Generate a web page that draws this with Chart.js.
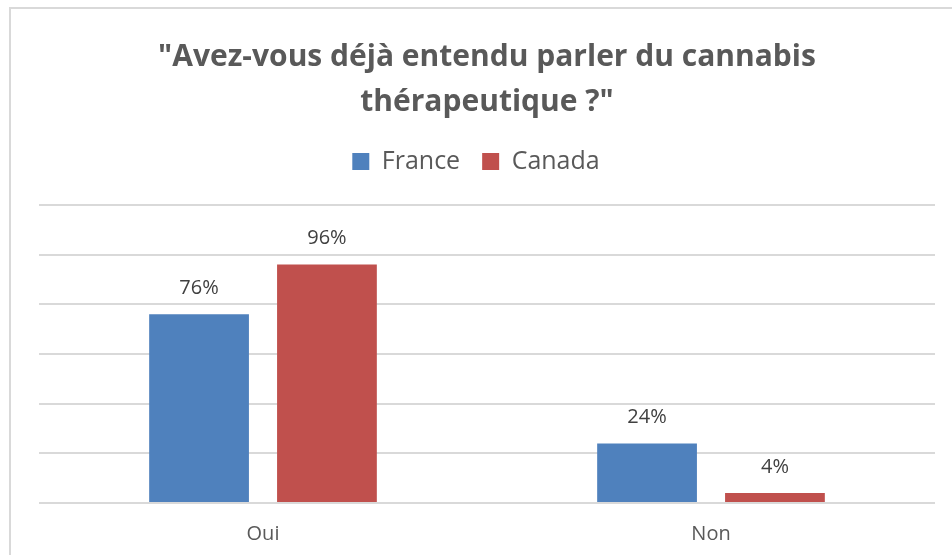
<!DOCTYPE html>
<html lang="fr">
<head>
<meta charset="utf-8">
<title>Cannabis thérapeutique</title>
<script src="https://cdn.jsdelivr.net/npm/chart.js@4.4.1/dist/chart.umd.min.js"></script>
<style>
  html, body { margin: 0; padding: 0; background: #fff; overflow: hidden; width: 952px; height: 555px; }
  #cadre { position: absolute; left: 9px; top: 7px; border: 2px solid #d9d9d9; width: 960px; height: 560px; }
  canvas { display: block; }
</style>
</head>
<body>
<div id="cadre"><canvas id="myChart" width="960" height="560"></canvas></div>
<script>
// Réponses au sondage (en %)
var categories = ["Oui", "Non"];
var france = [76, 24];
var canada = [96, 4];
var seriesNames = ["France", "Canada"];
var barColors = ["#4F81BD", "#C0504D"];
var yTicks = [0, 20, 40, 60, 80, 100, 120];

var textColor = "#595959";
var fontFamily = "'Open Sans', Lato, sans-serif";

// valeurs affichées au-dessus des barres
var valueLabels = {
  id: "valueLabels",
  afterDatasetsDraw: function (chart) {
    var ctx = chart.ctx;
    ctx.save();
    ctx.font = "20px " + fontFamily;
    ctx.fillStyle = "#404040";
    ctx.textAlign = "center";
    ctx.textBaseline = "middle";
    chart.data.datasets.forEach(function (ds, i) {
      chart.getDatasetMeta(i).data.forEach(function (bar, j) {
        ctx.fillText(ds.data[j] + "%", bar.x, bar.y - 26);
      });
    });
    ctx.restore();
  }
};

// espace sous la légende, et légende un peu décalée vers la gauche
var legendTweak = {
  id: "legendTweak",
  beforeInit: function (chart) {
    var fit = chart.legend.fit;
    chart.legend.fit = function () {
      fit.bind(chart.legend)();
      this.height += 21;
    };
  },
  afterLayout: function (chart) {
    chart.legend.left -= 11;
    chart.legend.right -= 11;
  }
};

new Chart("myChart", {
  type: "bar",
  data: {
    labels: categories,
    datasets: [{
      label: seriesNames[0],
      data: france,
      backgroundColor: barColors[0]
    }, {
      label: seriesNames[1],
      data: canada,
      backgroundColor: barColors[1]
    }]
  },
  options: {
    responsive: false,
    animation: false,
    categoryPercentage: 0.571,
    barPercentage: 0.78,
    layout: { padding: { left: 28, right: 36, top: 0, bottom: 12 } },
    plugins: {
      title: {
        display: true,
        text: ['"Avez-vous déjà entendu parler du cannabis', 'thérapeutique ?"'],
        color: textColor,
        font: { family: fontFamily, size: 30, weight: "bold", lineHeight: 1.5 },
        padding: { top: 26, bottom: 2 }
      },
      legend: {
        display: true,
        position: "top",
        labels: {
          color: textColor,
          font: { family: fontFamily, size: 25 },
          boxWidth: 17,
          boxHeight: 17,
          padding: 22
        }
      },
      tooltip: { enabled: false }
    },
    scales: {
      x: {
        grid: { display: false },
        border: { display: false },
        ticks: { color: textColor, font: { family: fontFamily, size: 20 }, padding: 11 }
      },
      y: {
        min: yTicks[0],
        max: yTicks[yTicks.length - 1],
        afterBuildTicks: function (scale) {
          scale.ticks = yTicks.map(function (v) { return { value: v }; });
        },
        grid: { color: "#d9d9d9", lineWidth: 2, drawTicks: false },
        border: { display: false },
        ticks: { display: false }
      }
    }
  },
  plugins: [valueLabels, legendTweak]
});
</script>
</body>
</html>
